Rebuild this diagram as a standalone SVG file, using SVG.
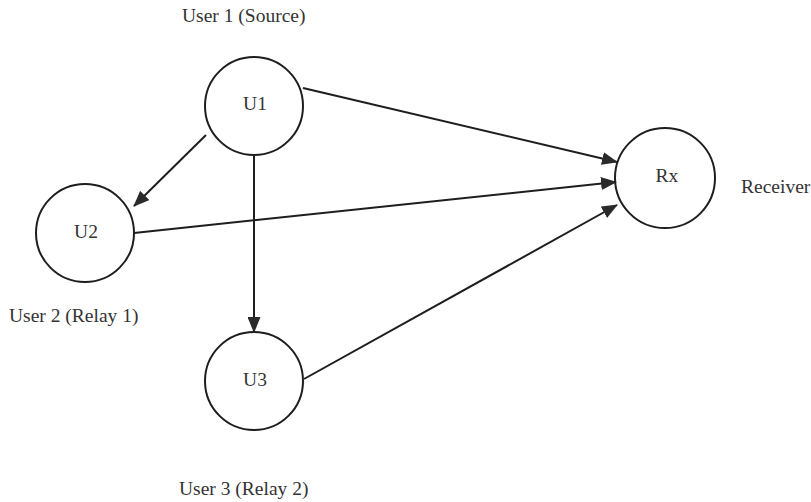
<svg xmlns="http://www.w3.org/2000/svg" width="811" height="502" viewBox="0 0 811 502">
<style>
.node{fill:none;stroke:#1e1e1e;stroke-width:2}
.lbl{font-family:"Liberation Serif","Times New Roman",serif;font-size:19.5px;fill:#333}
.c{text-anchor:middle}
.edge{stroke:#1e1e1e;stroke-width:2;fill:none}
</style>
<defs>
<marker id="ah" viewBox="0 0 16 13" refX="15" refY="6.5" markerWidth="16" markerHeight="13" markerUnits="userSpaceOnUse" orient="auto">
<path d="M0,0 L16,6.5 L0,13 Z" fill="#2a2a2a"/>
</marker>
</defs>
<rect width="811" height="502" fill="#ffffff"/>
<g id="connectors">
<line class="edge" x1="303" y1="88" x2="617" y2="162" marker-end="url(#ah)"/>
<line class="edge" x1="134" y1="233" x2="616" y2="182" marker-end="url(#ah)"/>
<line class="edge" x1="304" y1="379" x2="617" y2="205" marker-end="url(#ah)"/>
<line class="edge" x1="206" y1="135" x2="134" y2="206" marker-end="url(#ah)"/>
<line class="edge" x1="254" y1="156" x2="254" y2="332" marker-end="url(#ah)"/>
</g>
<g id="U1">
<circle class="node" cx="254" cy="106" r="49"/>
<text class="lbl c" x="255" y="110">U1</text>
<text class="lbl" x="182" y="22">User 1 (Source)</text>
</g>
<g id="U2">
<circle class="node" cx="85" cy="233" r="49"/>
<text class="lbl c" x="86" y="238">U2</text>
<text class="lbl" x="9" y="322">User 2 (Relay 1)</text>
</g>
<g id="U3">
<circle class="node" cx="254" cy="381" r="49"/>
<text class="lbl c" x="255" y="386">U3</text>
<text class="lbl" x="179" y="495">User 3 (Relay 2)</text>
</g>
<g id="Rx">
<circle class="node" cx="665" cy="178" r="50"/>
<text class="lbl c" x="667" y="182">Rx</text>
<text class="lbl" x="741" y="193">Receiver</text>
</g>
</svg>
